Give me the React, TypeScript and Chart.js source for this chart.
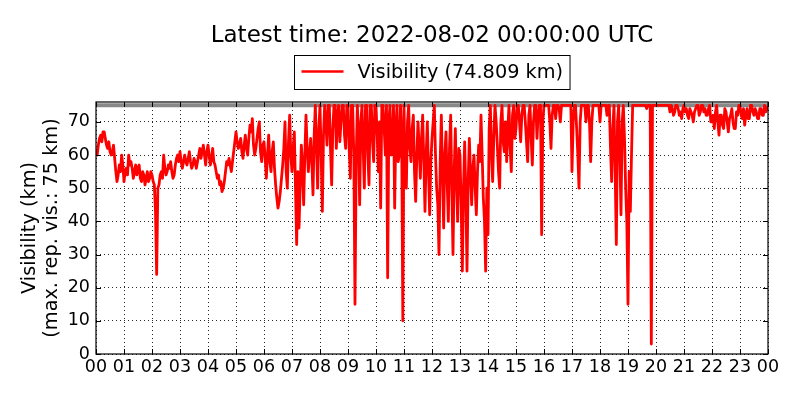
import { useEffect, useRef } from "react";
import { Chart, registerables } from "chart.js";

Chart.register(...registerables);

const titleText = "Latest time: 2022-08-02 00:00:00 UTC";
const seriesLabel = "Visibility (74.809 km)";
const yLabelLines = ["Visibility (km)", "(max. rep. vis.: 75 km)"];
const maxRepVis = 75;
const yMax = 76;
const stepMinutes = 2.5;
const dayMinutes = 1440;

// visibility (km), one value every 2.5 minutes, 00:00 .. 24:00
const visibility = [
  /* 00 */ 62, 60, 63, 65, 66, 64, 67, 67, 65, 63, 62, 64, 61, 60, 61, 63, 59, 55, 52, 54, 57, 55, 60, 57,
  /* 01 */ 52, 55, 56, 54, 60, 57, 58, 56, 53, 55, 57, 54, 56, 57, 53, 52, 55, 54, 51, 53, 55, 52, 53, 55,
  /* 02 */ 54, 52, 51, 43, 24, 50, 51, 54, 55, 53, 60, 56, 54, 55, 57, 56, 58, 55, 53, 54, 57, 59, 60, 58,
  /* 03 */ 61, 58, 56, 58, 60, 58, 57, 59, 61, 58, 56, 57, 59, 58, 56, 58, 60, 62, 59, 61, 63, 60, 57, 61,
  /* 04 */ 63, 60, 57, 59, 62, 58, 57, 55, 53, 54, 51, 52, 49, 50, 52, 55, 58, 57, 59, 57, 55, 58, 61, 64,
  /* 05 */ 67, 64, 62, 63, 65, 61, 59, 63, 66, 62, 60, 65, 69, 67, 71, 63, 60, 62, 65, 68, 70, 61, 58, 63,
  /* 06 */ 64, 59, 53, 60, 66, 58, 55, 61, 64, 56, 51, 47, 44, 46, 49, 53, 57, 62, 70, 55, 50, 64, 72, 60,
  /* 07 */ 55, 62, 67, 50, 33, 55, 38, 50, 63, 57, 45, 60, 72, 62, 55, 60, 65, 58, 48, 66, 75, 62, 50, 68,
  /* 08 */ 75, 60, 43, 66, 75, 70, 63, 75, 75, 62, 51, 68, 75, 75, 62, 72, 75, 64, 70, 75, 75, 66, 62, 75,
  /* 09 */ 75, 62, 53, 75, 75, 60, 15, 58, 75, 66, 45, 70, 75, 62, 50, 75, 75, 60, 51, 75, 75, 64, 58, 75,
  /* 10 */ 75, 66, 55, 70, 44, 75, 75, 68, 60, 75, 23, 70, 75, 60, 62, 75, 44, 68, 75, 58, 60, 75, 66, 10,
  /* 11 */ 75, 55, 50, 70, 75, 62, 58, 68, 72, 55, 46, 60, 70, 62, 53, 65, 72, 58, 43, 60, 70, 55, 42, 58,
  /* 12 */ 65, 70, 75, 60, 50, 45, 30, 58, 72, 55, 38, 60, 67, 52, 40, 62, 72, 50, 30, 55, 68, 52, 40, 62,
  /* 13 */ 60, 45, 25, 50, 64, 48, 25, 52, 65, 55, 45, 56, 60, 50, 42, 55, 63, 58, 72, 60, 47, 40, 25, 50,
  /* 14 */ 36, 68, 75, 60, 52, 66, 75, 70, 63, 55, 50, 70, 75, 64, 61, 70, 58, 68, 75, 62, 55, 72, 75, 65,
  /* 15 */ 68, 75, 75, 70, 64, 72, 75, 75, 70, 64, 58, 72, 75, 65, 57, 70, 75, 75, 65, 72, 75, 75, 36, 70,
  /* 16 */ 75, 75, 75, 75, 75, 70, 62, 72, 75, 75, 71, 75, 75, 74, 70, 75, 75, 75, 75, 75, 75, 75, 75, 75,
  /* 17 */ 55, 70, 75, 75, 68, 60, 50, 70, 75, 75, 75, 75, 70, 75, 75, 70, 58, 70, 75, 75, 75, 75, 75, 75,
  /* 18 */ 70, 75, 75, 75, 75, 75, 72, 75, 75, 62, 52, 68, 75, 55, 33, 70, 75, 60, 42, 70, 75, 65, 50, 40,
  /* 19 */ 15, 55, 43, 60, 75, 75, 75, 75, 75, 75, 75, 75, 75, 75, 75, 75, 74, 75, 75, 75, 3, 75, 75, 75,
  /* 20 */ 75, 75, 75, 75, 75, 75, 75, 75, 75, 75, 75, 75, 73, 75, 74, 72, 73, 75, 75, 74, 72, 73, 71, 74,
  /* 21 */ 75, 73, 74, 72, 71, 74, 73, 72, 70, 73, 74, 75, 75, 72, 73, 75, 75, 73, 74, 72, 72, 74, 75, 70,
  /* 22 */ 70, 72, 68, 73, 75, 70, 66, 72, 72, 69, 68, 74, 73, 70, 67, 71, 72, 74, 70, 68, 68, 73, 72, 75,
  /* 23 */ 75, 72, 71, 74, 69, 72, 74, 71, 71, 75, 75, 73, 72, 74, 73, 71, 71, 74, 74, 72, 72, 75, 73, 74,
  /* 24 */ 74.809,
];

const yTicks = [0, 10, 20, 30, 40, 50, 60, 70];
const hourTicks = Array.from({ length: 25 }, (_, i) => i * 60);

const FONT = '"DejaVu Sans", "Liberation Sans", sans-serif';

const decorPlugin = {
  id: "decor",
  afterDraw(chart: any) {
    const { ctx, chartArea: a, scales } = chart;
    const cx = (a.left + a.right) / 2;
    ctx.save();

    // frame
    ctx.strokeStyle = "#000";
    ctx.lineWidth = 1.2;
    ctx.setLineDash([]);
    ctx.strokeRect(a.left, a.top, a.right - a.left, a.bottom - a.top);

    // inside tick marks
    ctx.lineWidth = 1;
    ctx.beginPath();
    for (const v of yTicks) {
      const y = Math.round(scales.y.getPixelForValue(v)) + 0.5;
      ctx.moveTo(a.left, y);
      ctx.lineTo(a.left + 5, y);
      ctx.moveTo(a.right, y);
      ctx.lineTo(a.right - 5, y);
    }
    for (const m of hourTicks) {
      const x = Math.round(scales.x.getPixelForValue(m)) + 0.5;
      ctx.moveTo(x, a.bottom);
      ctx.lineTo(x, a.bottom - 5);
      ctx.moveTo(x, a.top);
      ctx.lineTo(x, a.top + 5);
    }
    ctx.stroke();

    // title
    ctx.fillStyle = "#000";
    ctx.font = `23px ${FONT}`;
    ctx.textAlign = "center";
    ctx.textBaseline = "alphabetic";
    ctx.fillText(titleText, cx, 42);

    // legend
    ctx.font = `19.3px ${FONT}`;
    const tw = ctx.measureText(seriesLabel).width;
    const boxW = 7 + 42 + 14 + tw + 7;
    const bl = Math.round(cx - boxW / 2) + 0.5;
    ctx.strokeStyle = "#000";
    ctx.lineWidth = 1;
    ctx.strokeRect(bl, 55.5, boxW, 34);
    ctx.strokeStyle = "#ff0000";
    ctx.lineWidth = 2.6;
    ctx.beginPath();
    ctx.moveTo(bl + 7, 71.5);
    ctx.lineTo(bl + 49, 71.5);
    ctx.stroke();
    ctx.textAlign = "left";
    ctx.fillText(seriesLabel, bl + 63, 77.5);

    // y axis label (two lines)
    const cy = (a.top + a.bottom) / 2;
    ctx.font = `19.3px ${FONT}`;
    ctx.textAlign = "center";
    const xs = [35, 56.5];
    yLabelLines.forEach((t, i) => {
      ctx.save();
      ctx.translate(xs[i], cy);
      ctx.rotate(-Math.PI / 2);
      ctx.fillText(t, 0, 0);
      ctx.restore();
    });

    ctx.restore();
  },
};

export default function App() {
  const ref = useRef<HTMLCanvasElement | null>(null);

  useEffect(() => {
    if (!ref.current) return;
    const points = visibility.map((v, i) => ({ x: i * stepMinutes, y: v }));
    const chart = new Chart(ref.current, {
      type: "line",
      data: {
        datasets: [
          {
            label: seriesLabel,
            data: points,
            borderColor: "#ff0000",
            borderWidth: 2.8,
            pointRadius: 0,
            tension: 0,
            borderJoinStyle: "round",
            fill: false,
            order: 1,
          },
          {
            label: "max",
            data: [
              { x: 0, y: maxRepVis },
              { x: dayMinutes, y: maxRepVis },
            ],
            borderColor: "#888888",
            borderWidth: 4,
            pointRadius: 0,
            fill: false,
            order: 2,
          },
        ],
      },
      options: {
        responsive: false,
        maintainAspectRatio: false,
        animation: false,
        devicePixelRatio: 1,
        layout: { padding: { top: 102, right: 32, left: 0, bottom: 0 } },
        plugins: {
          legend: { display: false },
          title: { display: false },
          tooltip: { enabled: false },
        },
        scales: {
          x: {
            type: "linear",
            min: 0,
            max: dayMinutes,
            afterFit: (s: any) => {
              s.height = 46;
            },
            afterBuildTicks: (s: any) => {
              s.ticks = hourTicks.map((v) => ({ value: v }));
            },
            ticks: {
              autoSkip: false,
              maxRotation: 0,
              padding: 3,
              color: "#000",
              font: { family: FONT, size: 17.5 },
              callback: (v: any) => String((Number(v) / 60) % 24).padStart(2, "0"),
            },
            grid: { color: "rgba(0,0,0,0.85)", lineWidth: 1, drawTicks: false },
            border: { display: false, dash: [1, 3] },
          },
          y: {
            type: "linear",
            min: 0,
            max: yMax,
            afterFit: (s: any) => {
              s.width = 96;
            },
            afterBuildTicks: (s: any) => {
              s.ticks = yTicks.map((v) => ({ value: v }));
            },
            ticks: {
              padding: 6,
              color: "#000",
              font: { family: FONT, size: 17.5 },
            },
            grid: { color: "rgba(0,0,0,0.85)", lineWidth: 1, drawTicks: false },
            border: { display: false, dash: [1, 3] },
          },
        },
      },
      plugins: [decorPlugin],
    });
    return () => chart.destroy();
  }, []);

  return (
    <div style={{ position: "fixed", left: 0, top: 0, width: 800, height: 400, background: "#fff" }}>
      <canvas ref={ref} width={800} height={400} style={{ width: 800, height: 400 }} />
    </div>
  );
}
